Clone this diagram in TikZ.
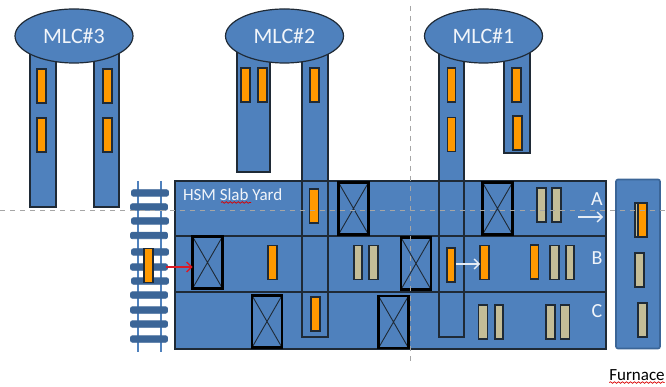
\documentclass[tikz,border=0pt]{standalone}
\usepackage{fontspec}
\setmainfont{Carlito}
\usepackage{tikz}
\usetikzlibrary{calc,positioning,shapes.geometric,decorations.pathmorphing,arrows.meta}
\definecolor{mlcblue}{HTML}{4F81BD}
\definecolor{darkline}{HTML}{1F2A36}
\definecolor{hotslab}{HTML}{FF9900}
\definecolor{coldslab}{HTML}{C4BD97}
\definecolor{tieblue}{HTML}{3B6597}

\begin{document}
\begin{tikzpicture}[
  x=1pt, y=-1pt,
  every node/.style={inner sep=0pt, outer sep=0pt},
  crane/.style={ellipse, draw=darkline, line width=1.2pt, fill=mlcblue, minimum width=118pt, minimum height=54pt, text=white!92!mlcblue, font=\fontsize{22}{22}\selectfont},
  leg/.style={draw=darkline, line width=1.2pt, fill=mlcblue},
  hot/.style={draw=darkline, line width=1.2pt, fill=hotslab, minimum width=9pt, minimum height=34pt},
  cold/.style={draw=darkline, line width=1.2pt, fill=coldslab, minimum width=9pt, minimum height=34pt},
  stack/.style={draw=black, line width=2.4pt, minimum width=30pt, minimum height=52pt,
    path picture={\draw[darkline, line width=.9pt] (path picture bounding box.north west)--(path picture bounding box.south east)
      (path picture bounding box.north east)--(path picture bounding box.south west);}},
  tie/.style={draw=tieblue, line width=.8pt, fill=tieblue, rounded corners=2pt, minimum width=37pt, minimum height=6.5pt},
  rail/.style={draw=mlcblue, line width=1.2pt},
  lab/.style={text=white!92!mlcblue, font=\fontsize{20}{20}\selectfont},
  guide/.style={draw=black!35, line width=.9pt, dashed, dash pattern=on 5pt off 5pt},
  squiggle/.style={draw=red!85!black, line width=.7pt, decorate, decoration={snake, segment length=4pt, amplitude=.8pt}},
  move/.style={draw=white!85!mlcblue, line width=1.4pt, -{Straight Barb[length=5pt,width=10pt]}}
]
\useasboundingbox (0,0) rectangle (666,387);

% --- crane legs ---
\node[leg, minimum width=26pt, minimum height=157pt] (legA) at (43,128.5) {};
\node[leg, minimum width=25pt, minimum height=157pt] (legB) at (106.5,128.5) {};
\node[leg, minimum width=33pt, minimum height=122pt] (legC) at (253.5,111) {};
\node[leg, minimum width=26pt, minimum height=103pt] (legG) at (517,101.5) {};

% --- slab yard ---
\node[leg, minimum width=431pt, minimum height=168pt] (yard) at (390.5,265) {};
\node[leg, minimum width=26pt, minimum height=287pt] (legE) at (315,193.5) {};
\node[leg, minimum width=25pt, minimum height=287pt] (legF) at (451.5,193.5) {};
\coordinate (rowAB) at (175,236);
\coordinate (rowBC) at (175,292);
\draw[leg] (rowAB) -- (rowAB -| yard.east);
\draw[leg] (rowBC) -- (rowBC -| yard.east);
\draw[leg] (yard.north west) -- (yard.north east);
\node[lab, anchor=west, font=\fontsize{17}{17}\selectfont] (yardname) at (183,195) {HSM Slab Yard};
\draw[squiggle] (yardname.south west)+(38,1.5) -- +(68,1.5);
\node[lab] (rowA) at (597,199) {A};
\node[lab] (rowB) at (597,258) {B};
\node[lab] (rowC) at (597,311) {C};

% --- cranes ---
\node[crane] (mlcC) at (74,36) {MLC\#3};
\node[crane] (mlcB) at (284.5,36) {MLC\#2};
\node[crane] (mlcA) at (483.5,36) {MLC\#1};
\node[hot] (a1) at (41.5,86) {};
\node[hot] (a2) at (41.5,135) {};
\node[hot] (b1) at (107.5,86) {};
\node[hot] (b2) at (107.5,135) {};
\node[hot] (c1) at (245.5,85) {};
\node[hot] (c2) at (262.5,85) {};
\node[hot] (c3) at (314.5,85) {};
\node[hot, minimum width=8pt] (d1) at (451.5,85) {};
\node[hot, minimum width=8pt] (d2) at (451.5,134.5) {};
\node[hot] (e1) at (516.5,85) {};
\node[hot] (e2) at (517.5,133) {};

% --- slabs on crane legs ---
\node[hot] (f1) at (314,206) {};
\node[hot] (f2) at (315.5,314) {};

% --- stacks ---
\node[stack] (stack1) at (353.5,208.5) {};
\node[stack] (stack2) at (207.5,262.5) {};
\node[stack] (stack3) at (267,321.5) {};
\node[stack] (stack4) at (393.5,322) {};
\node[stack] (stack5) at (416,263.5) {};
\node[stack] (stack6) at (497.5,208.5) {};

% --- row A ---
\node[cold] (rA1) at (541.5,205) {};
\node[cold] (rA2) at (556.5,205) {};

% --- row B ---
\node[hot] (rB1) at (272.5,262.5) {};
\node[cold, minimum width=8pt] (rB2) at (358,262.5) {};
\node[cold] (rB3) at (373.5,262.5) {};
\node[hot, minimum width=8pt] (rB4) at (451,265) {};
\node[hot] (rB5) at (484.5,262.5) {};
\node[hot, minimum width=8pt] (rB6) at (534.5,262) {};
\node[cold] (rB7) at (554.5,262.5) {};
\node[cold, minimum width=8pt] (rB8) at (570,262.5) {};

% --- row C ---
\node[cold] (rC1) at (483,322) {};
\node[cold, minimum width=8pt] (rC2) at (499,322) {};
\node[cold] (rC3) at (550.5,322) {};
\node[cold] (rC4) at (565,322) {};

% --- furnace ---
\node[draw=tieblue, line width=1.6pt, fill=mlcblue, rounded corners=2pt, minimum width=44pt, minimum height=169pt] (furnace) at (638,264) {};
\node[cold] (g1) at (639.5,220) {};
\node[hot] (g2) at (642.5,220) {};
\node[cold] (g3) at (639.5,270) {};
\node[cold] (g4) at (642.5,320) {};
\node[font=\fontsize{17}{17}\selectfont] (furnacename) at (637,375) {Furnace};
\draw[squiggle] (furnacename.south west)+(0,2) -- ($(furnacename.south east)+(0,2)$);

% --- track ---
\coordinate (railA) at (138,181);
\coordinate (railB) at (161,181);
\draw[rail] (railA) -- ++(0,171);
\draw[rail] (railB) -- ++(0,171);
\node[tie] (t1) at (150,193) {};
\node[tie] (t2) at (149,207) {};
\node[tie] (t3) at (150,221) {};
\node[tie] (t4) at (149,235.5) {};
\node[tie] (t5) at (150,252) {};
\node[tie] (t6) at (149,267) {};
\node[tie] (t7) at (150,281) {};
\node[tie] (t8) at (149,295) {};
\node[tie] (t9) at (149,310) {};
\node[tie] (t10) at (149,324) {};
\node[tie] (t11) at (149,339) {};
\node[hot] (train) at (148.5,265.5) {};

% --- moves ---
\coordinate (moveA) at (578,217);
\coordinate (moveB) at (456,264);
\coordinate (moveR) at (166,267);
\draw[move] (moveA) -- ++(25,0);
\draw[move] (moveB) -- (moveB -| rB5.west);
\draw[move, draw=red!80!mlcblue] (moveR) -- (moveR -| stack2.west);

% --- guides ---
\coordinate (guideL) at (0,210.5);
\coordinate (guideT) at (410,6);
\draw[guide] (guideL) -- ++(666,0);
\draw[guide] (guideT) -- ++(0,359);

\end{tikzpicture}
\end{document}
